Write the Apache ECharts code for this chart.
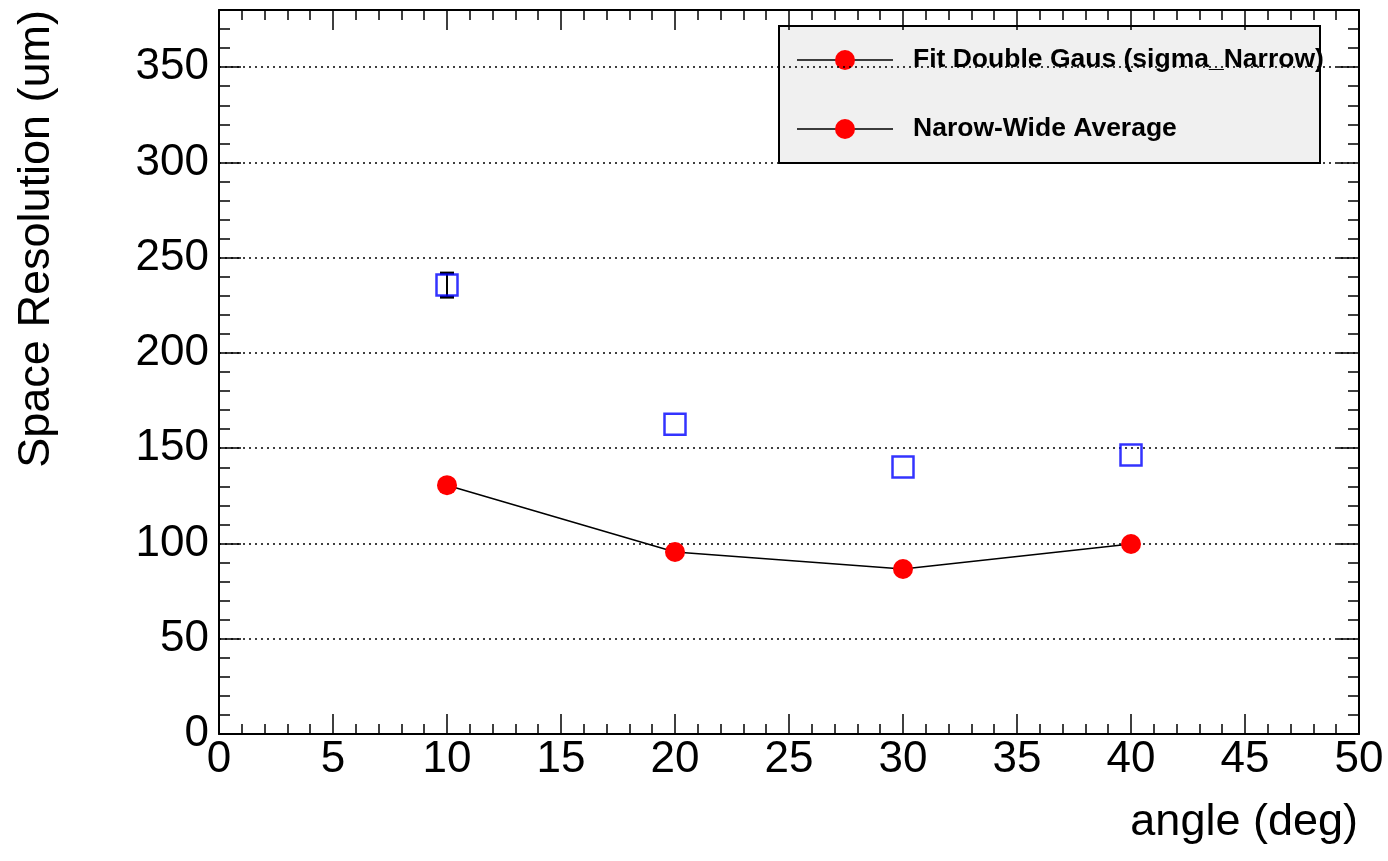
<!DOCTYPE html>
<html>
<head>
<meta charset="utf-8">
<script src="https://cdn.jsdelivr.net/npm/echarts@6/dist/echarts.min.js"></script>
<style>
html,body{margin:0;padding:0;background:#fff;}
#chart{width:1388px;height:861px;}
</style>
</head>
<body>
<div id="chart"></div>
<script>
// ---- data ----
var angles = [10, 20, 30, 40];
var sigmaNarrow = [130.6, 95.5, 86.6, 99.7];          // red circles, joined by line
var narrowWideAvg = [235.6, 162.6, 140.1, 146.4];     // blue open squares
var narrowWideErr = [6.3, 0, 0, 0];                   // vertical error (visible only at 10 deg)
var legendLabels = ['Fit Double Gaus (sigma_Narrow)', 'Narow-Wide Average'];
var xTitle = 'angle (deg)';
var yTitle = 'Space Resolution (um)';

var FONT = '"Liberation Sans", Arial, Helvetica, sans-serif';

var lineData = angles.map(function (a, i) { return [a, sigmaNarrow[i]]; });
var sqData = angles.map(function (a, i) { return [a, narrowWideAvg[i]]; });
var errData = angles.map(function (a, i) {
  return [a, narrowWideAvg[i] - narrowWideErr[i], narrowWideAvg[i] + narrowWideErr[i]];
}).filter(function (d, i) { return narrowWideErr[i] > 0; });

var chart = echarts.init(document.getElementById('chart'), null, {renderer: 'canvas'});

function xAxisDef(pos, interval, tickLen, labels, line) {
  return {
    type: 'value', position: pos, min: 0, max: 50, interval: interval,
    axisLine: {show: line, onZero: false, lineStyle: {color: '#000', width: 2}},
    axisTick: {show: true, inside: true, length: tickLen, lineStyle: {color: '#000', width: 1.5}},
    axisLabel: {show: labels, color: '#000', fontSize: 44, fontFamily: FONT, margin: 4},
    splitLine: {show: false}, minorTick: {show: false}
  };
}
function yAxisDef(pos, interval, tickLen, labels, line, split) {
  return {
    type: 'value', position: pos, min: 0, max: 380, interval: interval,
    axisLine: {show: line, onZero: false, lineStyle: {color: '#000', width: 2}},
    axisTick: {show: true, inside: true, length: tickLen, lineStyle: {color: '#000', width: 1.5}},
    axisLabel: {show: labels, color: '#000', fontSize: 44, fontFamily: FONT, margin: 10,
      formatter: function (v) { return v > 350 ? '' : String(v); }},
    splitLine: {show: split, lineStyle: {color: '#000', width: 1.5, type: [2, 4]}},
    minorTick: {show: false}
  };
}

var option = {
  backgroundColor: '#fff',
  animation: false,
  grid: {left: 219, right: 29, top: 10, bottom: 127, show: false},
  xAxis: [
    xAxisDef('bottom', 5, 20, true, true),
    xAxisDef('bottom', 1, 10, false, false),
    xAxisDef('top', 5, 20, false, true),
    xAxisDef('top', 1, 10, false, false)
  ],
  yAxis: [
    yAxisDef('left', 50, 22, true, true, true),
    yAxisDef('left', 10, 11, false, false, false),
    yAxisDef('right', 50, 22, false, true, false),
    yAxisDef('right', 10, 11, false, false, false)
  ],
  series: [
    {
      name: legendLabels[0], type: 'line', xAxisIndex: 0, yAxisIndex: 0,
      data: lineData, symbol: 'circle', symbolSize: 20,
      itemStyle: {color: '#ff0000'},
      lineStyle: {color: '#000', width: 1.5}, z: 5
    },
    {
      name: legendLabels[1] + ' err', type: 'custom', xAxisIndex: 0, yAxisIndex: 0,
      data: errData, z: 4,
      renderItem: function (params, api) {
        var x = api.value(0);
        var lo = api.coord([x, api.value(1)]);
        var hi = api.coord([x, api.value(2)]);
        var cap = 7;
        return {type: 'group', children: [
          {type: 'line', shape: {x1: lo[0], y1: lo[1], x2: hi[0], y2: hi[1]}, style: {stroke: '#000', lineWidth: 2}},
          {type: 'line', shape: {x1: lo[0] - cap, y1: lo[1], x2: lo[0] + cap, y2: lo[1]}, style: {stroke: '#000', lineWidth: 3}},
          {type: 'line', shape: {x1: hi[0] - cap, y1: hi[1], x2: hi[0] + cap, y2: hi[1]}, style: {stroke: '#000', lineWidth: 3}}
        ]};
      }
    },
    {
      name: legendLabels[1], type: 'scatter', xAxisIndex: 0, yAxisIndex: 0,
      data: sqData, symbol: 'rect', symbolSize: 21,
      itemStyle: {color: 'rgba(0,0,0,0)', borderColor: '#0000ff', borderWidth: 2.5}, z: 6
    }
  ],
  graphic: [
    {type: 'text', x: 37, y: 10, rotation: Math.PI / 2,
      style: {text: yTitle, font: '45px ' + FONT, fill: '#000', textAlign: 'right', textVerticalAlign: 'middle'}},
    {type: 'text', x: 1358, y: 823,
      style: {text: xTitle, font: '45px ' + FONT, fill: '#000', textAlign: 'right', textVerticalAlign: 'middle'}},
    {type: 'group', z: 100, children: [
      {type: 'rect', shape: {x: 779, y: 26, width: 541, height: 137},
        style: {fill: '#f0f0f0', stroke: '#000', lineWidth: 2}},
      {type: 'line', shape: {x1: 797, y1: 60, x2: 893, y2: 60}, style: {stroke: '#000', lineWidth: 1.5}},
      {type: 'circle', shape: {cx: 845, cy: 60, r: 10}, style: {fill: '#ff0000'}},
      {type: 'text', x: 913, y: 60, style: {text: legendLabels[0], font: 'bold 26.5px ' + FONT, fill: '#000', textVerticalAlign: 'middle'}},
      {type: 'line', shape: {x1: 797, y1: 129, x2: 893, y2: 129}, style: {stroke: '#000', lineWidth: 1.5}},
      {type: 'circle', shape: {cx: 845, cy: 129, r: 10}, style: {fill: '#ff0000'}},
      {type: 'text', x: 913, y: 129, style: {text: legendLabels[1], font: 'bold 26.5px ' + FONT, fill: '#000', textVerticalAlign: 'middle'}}
    ]}
  ]
};
chart.setOption(option);
</script>
</body>
</html>
